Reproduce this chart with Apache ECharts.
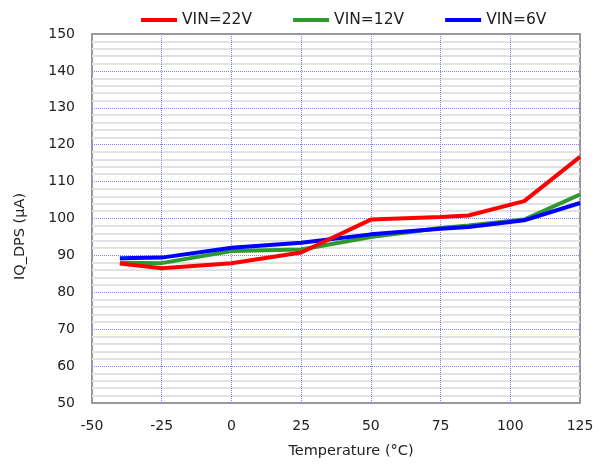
<!DOCTYPE html>
<html>
<head>
<meta charset="utf-8">
<script src="https://cdn.jsdelivr.net/npm/echarts@6/dist/echarts.min.js"></script>
<style>
  html, body { margin: 0; padding: 0; background: #fff; }
  #main { width: 603px; height: 464px; }
</style>
</head>
<body>
<div id="main"></div>
<script>
// temperature points (°C)
var temps = [-40, -25, 0, 25, 50, 75, 85, 105, 125];
// IQ_DPS (µA) per input voltage
var vin22 = [87.8, 86.5, 87.9, 90.8, 99.7, 100.4, 100.8, 104.7, 116.7];
var vin12 = [88.0, 87.9, 91.2, 91.6, 95.0, 97.4, 98.1, 99.7, 106.5];
var vin6  = [89.2, 89.4, 92.1, 93.4, 95.7, 97.2, 97.7, 99.5, 104.2];
var seriesNames = ['VIN=22V', 'VIN=12V', 'VIN=6V'];
var seriesColors = ['#ff0000', '#2e9a2e', '#0000ff'];

function pairs(ys) {
  return temps.map(function (t, i) { return [t, ys[i]]; });
}

var chartDom = document.getElementById('main');
var myChart = echarts.init(chartDom);
var font = 'DejaVu Sans';
var option = {
  animation: false,
  textStyle: { fontFamily: font },
  legend: {
    top: 7,
    left: 136,
    itemWidth: 36,
    itemHeight: 4,
    itemGap: 41,
    icon: 'rect',
    data: seriesNames,
    textStyle: { fontSize: 15.5, color: '#222', fontFamily: font }
  },
  grid: {
    left: 92, right: 23, top: 34, bottom: 60,
    show: true, borderColor: '#9a9a9a', borderWidth: 2
  },
  xAxis: {
    type: 'value',
    min: -50, max: 125, interval: 25,
    name: 'Temperature (°C)',
    nameLocation: 'middle',
    nameGap: 41,
    nameTextStyle: { fontSize: 14.5, color: '#222', fontFamily: font, padding: [0, 0, 0, 30] },
    axisLine: { show: false },
    axisTick: { show: false },
    axisLabel: { fontSize: 14, color: '#222', margin: 16, fontFamily: font },
    splitLine: { show: true, showMinLine: false, showMaxLine: false,
      lineStyle: { color: '#7f7fff', type: [1, 1], width: 1 } }
  },
  yAxis: {
    type: 'value',
    min: 50, max: 150, interval: 10,
    name: 'IQ_DPS (µA)',
    nameLocation: 'middle',
    nameGap: 64,
    nameTextStyle: { fontSize: 14.5, color: '#222', fontFamily: font, padding: [0, 36, 0, 0] },
    axisLine: { show: false },
    axisTick: { show: false },
    axisLabel: { fontSize: 14, color: '#222', margin: 17, fontFamily: font },
    minorTick: { show: false, splitNumber: 5 },
    minorSplitLine: { show: true, lineStyle: { color: '#e2e2e2', width: 2 } },
    splitLine: { show: true, showMinLine: false, showMaxLine: false,
      lineStyle: { color: '#7f7fff', type: [1, 1], width: 1 } }
  },
  series: [
    { name: seriesNames[0], type: 'line', data: pairs(vin22), z: 5 },
    { name: seriesNames[1], type: 'line', data: pairs(vin12), z: 3 },
    { name: seriesNames[2], type: 'line', data: pairs(vin6), z: 4 }
  ].map(function (s, i) {
    s.showSymbol = false;
    s.symbol = 'none';
    s.color = seriesColors[i];
    s.lineStyle = { width: 4, color: seriesColors[i] };
    return s;
  })
};
myChart.setOption(option);
</script>
</body>
</html>
